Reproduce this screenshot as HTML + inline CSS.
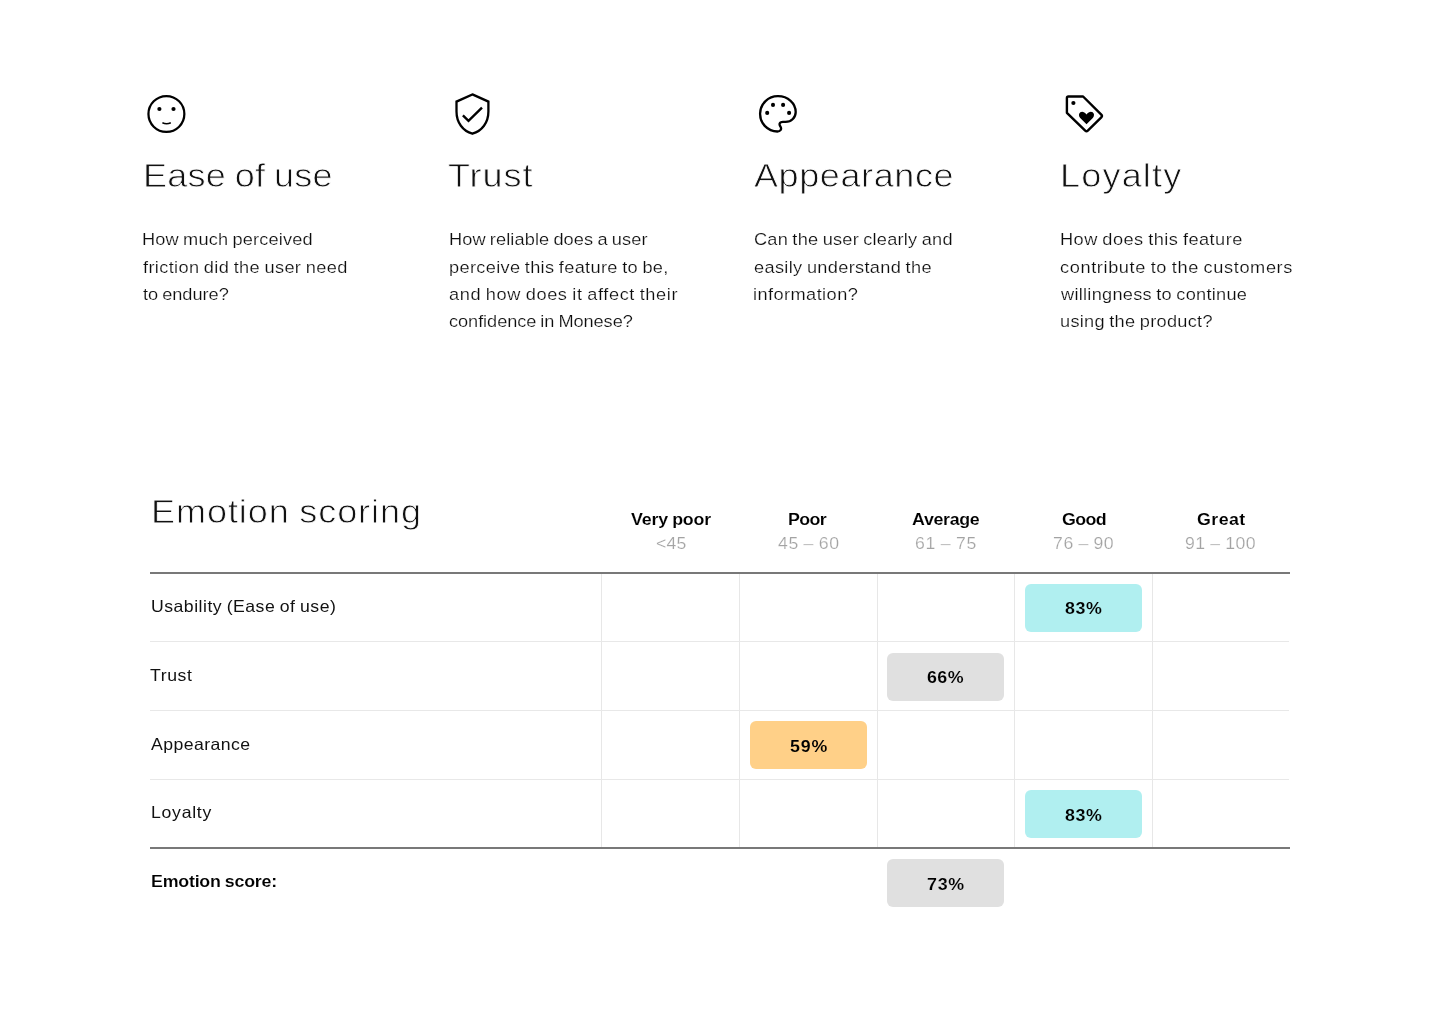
<!DOCTYPE html>
<html lang="en">
<head>
<meta charset="utf-8">
<title>Emotion scoring</title>
<style>
html,body{margin:0;padding:0;background:#fff;}
body{width:1440px;height:1017px;position:relative;overflow:hidden;font-family:"Liberation Sans",sans-serif;}
.t{position:absolute;white-space:nowrap;line-height:1;transform-origin:0 0;}
.hl{position:absolute;left:150px;width:1139px;height:1px;background:#e8e8e8;}
.hd{position:absolute;left:150px;width:1139.5px;height:2px;background:#787878;}
.vl{position:absolute;top:573px;height:275px;width:1px;background:#e7e7e7;}
.pill{position:absolute;width:117px;height:48px;border-radius:6px;}
.ic{position:absolute;overflow:visible;}
</style>
</head>
<body>
<div class="vl" style="left:601px"></div>
<div class="vl" style="left:739px"></div>
<div class="vl" style="left:877px"></div>
<div class="vl" style="left:1014px"></div>
<div class="vl" style="left:1152px"></div>
<div class="hl" style="top:641px"></div>
<div class="hl" style="top:710px"></div>
<div class="hl" style="top:779px"></div>
<div class="hd" style="top:572px"></div>
<div class="hd" style="top:847px"></div>
<div class="pill" style="left:1025px;top:584px;background:#b0eff0"></div>
<div class="pill" style="left:887px;top:652.75px;background:#e0e0e0"></div>
<div class="pill" style="left:749.5px;top:721px;background:#ffd088"></div>
<div class="pill" style="left:1025px;top:790px;background:#b0eff0"></div>
<div class="pill" style="left:887px;top:859px;background:#e0e0e0"></div>
<svg class="ic" style="left:140px;top:85px" width="60" height="60" viewBox="140 85 60 60" fill="none" stroke="#000" stroke-width="2.25">
<circle cx="166.4" cy="114" r="17.95"/>
<circle cx="159.4" cy="109" r="2.1" fill="#000" stroke="none"/>
<circle cx="173.5" cy="109" r="2.1" fill="#000" stroke="none"/>
<path d="M162.4 122.7 Q166.6 124.6 170.8 122.7" stroke-width="1.5"/>
</svg>
<svg class="ic" style="left:445px;top:85px" width="60" height="60" viewBox="445 85 60 60" fill="none" stroke="#000" stroke-width="2.3">
<path d="M472.4 94.4 L488.4 101.6 V111.5 C488.4 122.6 482 131 472.4 133.7 C462.8 131 456.5 122.6 456.5 111.5 V101.6 Z" stroke-linejoin="miter"/>
<path d="M462.9 115.4 L468.5 120.9 L482 107.6" stroke-width="2.4"/>
</svg>
<svg class="ic" style="left:750px;top:85px" width="60" height="60" viewBox="750 85 60 60" fill="none" stroke="#000" stroke-width="2.3">
<path d="M778.1 96.2 A17.65 17.65 0 0 0 777.4 131.5 C780.4 131.5 781.7 129.3 780.8 127.3 C780 125.6 779.3 125 779.6 123.8 C780 122.3 781.2 121.9 783 121.9 H785.5 C791.5 121.9 795.7 117.6 795.7 112 C795.7 103.2 787.9 96.2 778.1 96.2 Z"/>
<g fill="#000" stroke="none"><circle cx="773" cy="104.9" r="2.05"/><circle cx="783.1" cy="104.9" r="2.05"/><circle cx="767.2" cy="112.9" r="2.05"/><circle cx="789.1" cy="112.9" r="2.05"/></g>
</svg>
<svg class="ic" style="left:1055px;top:85px" width="60" height="60" viewBox="1055 85 60 60" fill="none" stroke="#000" stroke-width="2.4" stroke-linejoin="round">
<path d="M1068.4 96.5 H1083.1 L1101.3 114.7 Q1102.6 116 1101.3 117.3 L1087.8 130.7 Q1086.5 132 1085.2 130.7 L1066.9 112.8 V98 Q1066.9 96.5 1068.4 96.5 Z"/>
<circle cx="1073.4" cy="103" r="2.1" fill="#000" stroke="none"/>
<path d="M1086.5 124.2 L1080.2 117.9 C1078.5 116.2 1078.6 113.5 1080.3 112.3 C1082.1 111.1 1084.5 111.8 1086.5 114.6 C1088.5 111.8 1090.9 111.1 1092.7 112.3 C1094.4 113.5 1094.5 116.2 1092.8 117.9 Z" fill="#000" stroke="none"/>
</svg>

<div class="t" style="left:142.82px;top:157.80px;font-size:34px;font-weight:400;color:#111;letter-spacing:0.194px;word-spacing:-1.4px;transform:scaleX(1.06);-webkit-text-stroke:0.8px #fff">Ease of use</div>
<div class="t" style="left:448.20px;top:157.80px;font-size:34px;font-weight:400;color:#111;letter-spacing:0.891px;word-spacing:-1.4px;transform:scaleX(1.06);-webkit-text-stroke:0.8px #fff">Trust</div>
<div class="t" style="left:753.92px;top:157.80px;font-size:34px;font-weight:400;color:#111;letter-spacing:0.549px;word-spacing:-1.4px;transform:scaleX(1.06);-webkit-text-stroke:0.8px #fff">Appearance</div>
<div class="t" style="left:1059.82px;top:157.80px;font-size:34px;font-weight:400;color:#111;letter-spacing:1.108px;word-spacing:-1.4px;transform:scaleX(1.06);-webkit-text-stroke:0.8px #fff">Loyalty</div>
<div class="t" style="left:142.17px;top:231.00px;font-size:17px;font-weight:400;color:#0d0d0d;letter-spacing:0.146px;word-spacing:-0.9px;transform:scaleX(1.07);-webkit-text-stroke:0.2px #fff">How much perceived</div>
<div class="t" style="left:143.24px;top:258.60px;font-size:17px;font-weight:400;color:#0d0d0d;letter-spacing:0.333px;word-spacing:-0.9px;transform:scaleX(1.07);-webkit-text-stroke:0.2px #fff">friction did the user need</div>
<div class="t" style="left:143.24px;top:285.60px;font-size:17px;font-weight:400;color:#0d0d0d;letter-spacing:-0.028px;word-spacing:-0.9px;transform:scaleX(1.07);-webkit-text-stroke:0.2px #fff">to endure?</div>
<div class="t" style="left:448.69px;top:231.00px;font-size:17px;font-weight:400;color:#0d0d0d;letter-spacing:0.085px;word-spacing:-0.9px;transform:scaleX(1.07);-webkit-text-stroke:0.2px #fff">How reliable does a user</div>
<div class="t" style="left:448.69px;top:258.60px;font-size:17px;font-weight:400;color:#0d0d0d;letter-spacing:0.306px;word-spacing:-0.9px;transform:scaleX(1.07);-webkit-text-stroke:0.2px #fff">perceive this feature to be,</div>
<div class="t" style="left:448.96px;top:285.60px;font-size:17px;font-weight:400;color:#0d0d0d;letter-spacing:0.561px;word-spacing:-0.9px;transform:scaleX(1.07);-webkit-text-stroke:0.2px #fff">and how does it affect their</div>
<div class="t" style="left:448.96px;top:312.60px;font-size:17px;font-weight:400;color:#0d0d0d;letter-spacing:-0.063px;word-spacing:-0.9px;transform:scaleX(1.07);-webkit-text-stroke:0.2px #fff">confidence in Monese?</div>
<div class="t" style="left:753.68px;top:231.00px;font-size:17px;font-weight:400;color:#0d0d0d;letter-spacing:0.213px;word-spacing:-0.9px;transform:scaleX(1.07);-webkit-text-stroke:0.2px #fff">Can the user clearly and</div>
<div class="t" style="left:753.68px;top:258.60px;font-size:17px;font-weight:400;color:#0d0d0d;letter-spacing:0.307px;word-spacing:-0.9px;transform:scaleX(1.07);-webkit-text-stroke:0.2px #fff">easily understand the</div>
<div class="t" style="left:753.41px;top:285.60px;font-size:17px;font-weight:400;color:#0d0d0d;letter-spacing:0.399px;word-spacing:-0.9px;transform:scaleX(1.07);-webkit-text-stroke:0.2px #fff">information?</div>
<div class="t" style="left:1060.43px;top:231.00px;font-size:17px;font-weight:400;color:#0d0d0d;letter-spacing:0.432px;word-spacing:-0.9px;transform:scaleX(1.07);-webkit-text-stroke:0.2px #fff">How does this feature</div>
<div class="t" style="left:1059.94px;top:258.60px;font-size:17px;font-weight:400;color:#0d0d0d;letter-spacing:0.570px;word-spacing:-0.9px;transform:scaleX(1.07);-webkit-text-stroke:0.2px #fff">contribute to the customers</div>
<div class="t" style="left:1061.01px;top:285.60px;font-size:17px;font-weight:400;color:#0d0d0d;letter-spacing:0.251px;word-spacing:-0.9px;transform:scaleX(1.07);-webkit-text-stroke:0.2px #fff">willingness to continue</div>
<div class="t" style="left:1059.67px;top:312.60px;font-size:17px;font-weight:400;color:#0d0d0d;letter-spacing:0.264px;word-spacing:-0.9px;transform:scaleX(1.07);-webkit-text-stroke:0.2px #fff">using the product?</div>
<div class="t" style="left:150.82px;top:493.50px;font-size:34px;font-weight:400;color:#111;letter-spacing:0.882px;word-spacing:-1.4px;transform:scaleX(1.06);-webkit-text-stroke:0.8px #fff">Emotion scoring</div>
<div class="t" style="left:630.50px;top:510.50px;font-size:16.5px;font-weight:700;color:#000;letter-spacing:-0.172px;word-spacing:-0.5px;transform:scaleX(1.08);-webkit-text-stroke:0.1px #fff">Very poor</div>
<div class="t" style="left:788.42px;top:510.50px;font-size:16.5px;font-weight:700;color:#000;letter-spacing:-0.567px;word-spacing:-0.5px;transform:scaleX(1.08);-webkit-text-stroke:0.1px #fff">Poor</div>
<div class="t" style="left:912.00px;top:510.50px;font-size:16.5px;font-weight:700;color:#000;letter-spacing:-0.306px;word-spacing:-0.5px;transform:scaleX(1.08);-webkit-text-stroke:0.1px #fff">Average</div>
<div class="t" style="left:1061.65px;top:510.50px;font-size:16.5px;font-weight:700;color:#000;letter-spacing:-0.618px;word-spacing:-0.5px;transform:scaleX(1.08);-webkit-text-stroke:0.1px #fff">Good</div>
<div class="t" style="left:1197.00px;top:510.50px;font-size:16.5px;font-weight:700;color:#000;letter-spacing:0.394px;word-spacing:-0.5px;transform:scaleX(1.08);-webkit-text-stroke:0.1px #fff">Great</div>
<div class="t" style="left:656.20px;top:535.25px;font-size:16.5px;font-weight:400;color:#a3a3a3;letter-spacing:0.159px;word-spacing:-0.8px;transform:scaleX(1.07);-webkit-text-stroke:0.2px #fff">&lt;45</div>
<div class="t" style="left:778.00px;top:535.25px;font-size:16.5px;font-weight:400;color:#a3a3a3;letter-spacing:0.591px;word-spacing:-0.8px;transform:scaleX(1.07);-webkit-text-stroke:0.2px #fff">45 – 60</div>
<div class="t" style="left:914.70px;top:535.25px;font-size:16.5px;font-weight:400;color:#a3a3a3;letter-spacing:0.638px;word-spacing:-0.8px;transform:scaleX(1.07);-webkit-text-stroke:0.2px #fff">61 – 75</div>
<div class="t" style="left:1052.55px;top:535.25px;font-size:16.5px;font-weight:400;color:#a3a3a3;letter-spacing:0.537px;word-spacing:-0.8px;transform:scaleX(1.07);-webkit-text-stroke:0.2px #fff">76 – 90</div>
<div class="t" style="left:1185.05px;top:535.25px;font-size:16.5px;font-weight:400;color:#a3a3a3;letter-spacing:0.484px;word-spacing:-0.8px;transform:scaleX(1.07);-webkit-text-stroke:0.2px #fff">91 – 100</div>
<div class="t" style="left:150.93px;top:597.90px;font-size:16.5px;font-weight:400;color:#111;letter-spacing:0.458px;word-spacing:-0.8px;transform:scaleX(1.07)">Usability (Ease of use)</div>
<div class="t" style="left:150.10px;top:666.65px;font-size:16.5px;font-weight:400;color:#111;letter-spacing:0.560px;word-spacing:-0.8px;transform:scaleX(1.07)">Trust</div>
<div class="t" style="left:151.00px;top:735.60px;font-size:16.5px;font-weight:400;color:#111;letter-spacing:0.413px;word-spacing:-0.8px;transform:scaleX(1.07)">Appearance</div>
<div class="t" style="left:150.95px;top:804.00px;font-size:16.5px;font-weight:400;color:#111;letter-spacing:0.677px;word-spacing:-0.8px;transform:scaleX(1.07)">Loyalty</div>
<div class="t" style="left:150.94px;top:872.70px;font-size:16.5px;font-weight:700;color:#000;letter-spacing:-0.212px;word-spacing:-0.5px;transform:scaleX(1.08);-webkit-text-stroke:0.1px #fff">Emotion score:</div>
<div class="t" style="left:1064.76px;top:600.40px;font-size:16.5px;font-weight:700;color:#000;letter-spacing:0.573px;word-spacing:-0.5px;transform:scaleX(1.08);-webkit-text-stroke:0.1px #b0eff0">83%</div>
<div class="t" style="left:927.24px;top:669.15px;font-size:16.5px;font-weight:700;color:#000;letter-spacing:0.411px;word-spacing:-0.5px;transform:scaleX(1.08);-webkit-text-stroke:0.1px #e0e0e0">66%</div>
<div class="t" style="left:789.50px;top:737.90px;font-size:16.5px;font-weight:700;color:#000;letter-spacing:0.823px;word-spacing:-0.5px;transform:scaleX(1.08);-webkit-text-stroke:0.1px #ffd088">59%</div>
<div class="t" style="left:1064.76px;top:806.50px;font-size:16.5px;font-weight:700;color:#000;letter-spacing:0.573px;word-spacing:-0.5px;transform:scaleX(1.08);-webkit-text-stroke:0.1px #b0eff0">83%</div>
<div class="t" style="left:926.68px;top:875.50px;font-size:16.5px;font-weight:700;color:#000;letter-spacing:0.671px;word-spacing:-0.5px;transform:scaleX(1.08);-webkit-text-stroke:0.1px #e0e0e0">73%</div>
</body>
</html>
